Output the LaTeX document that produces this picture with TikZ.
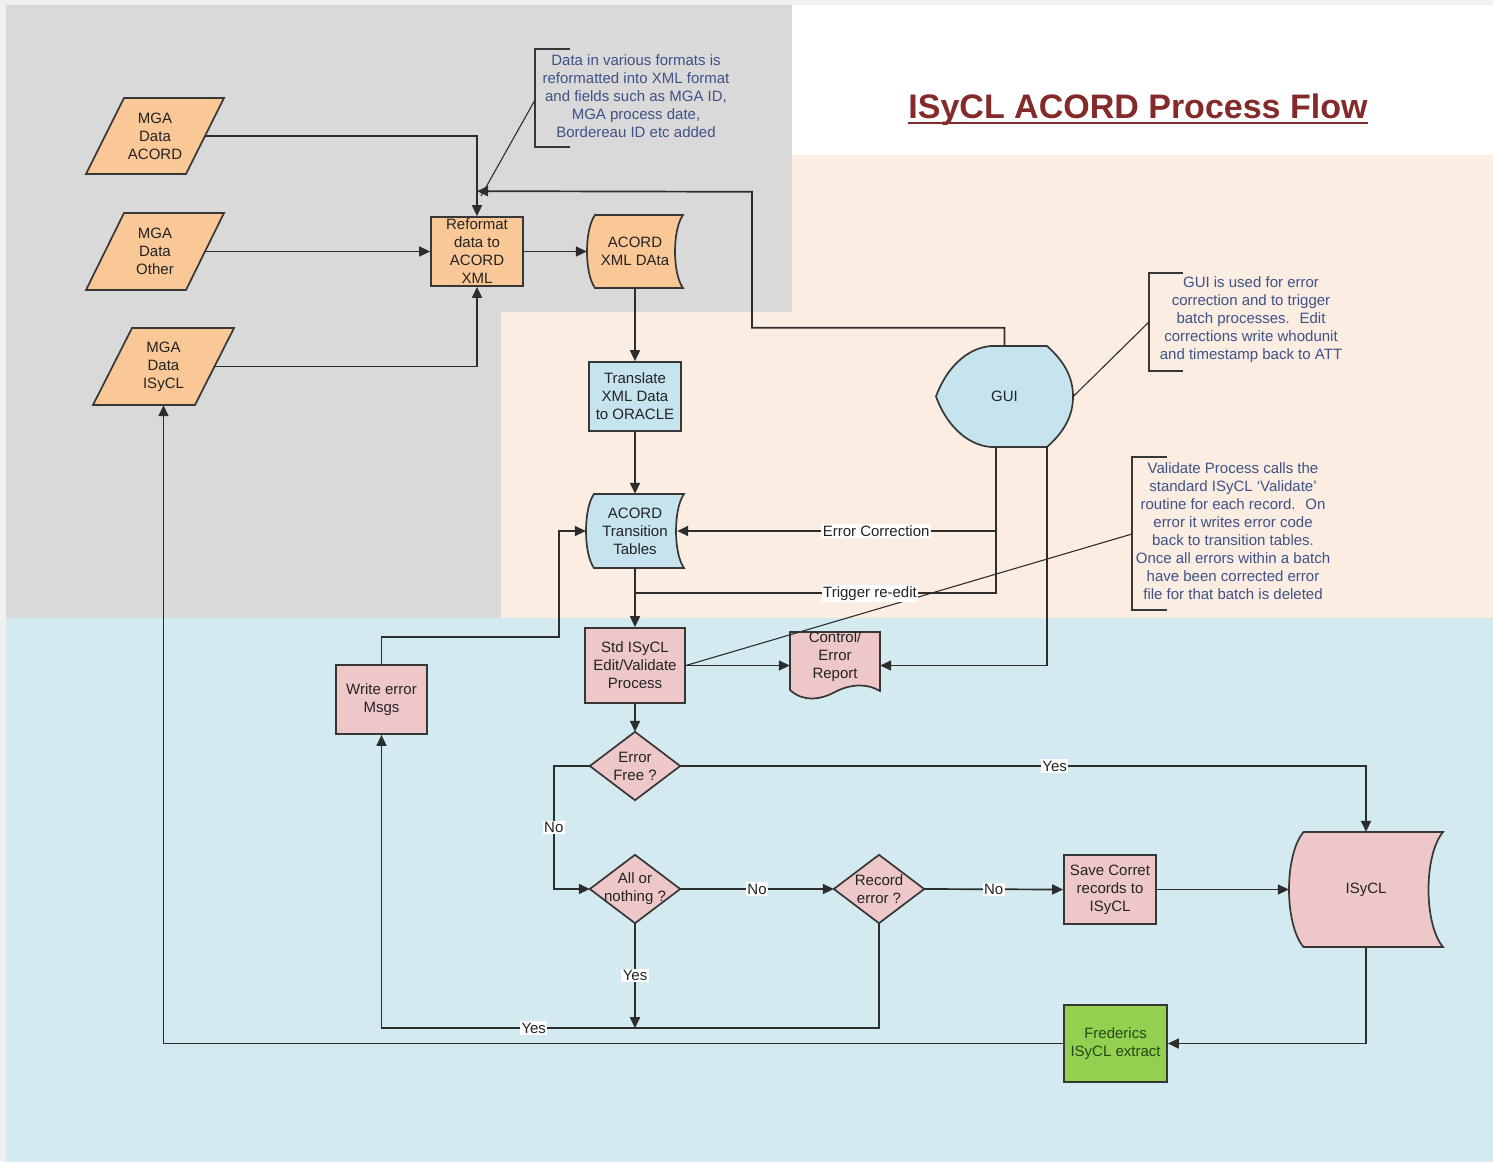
\documentclass[tikz,border=0pt]{standalone}
\usepackage{fontspec}
\setmainfont{Liberation Sans}
\usetikzlibrary{arrows.meta,calc}
\definecolor{outerbg}{RGB}{240,240,240}
\definecolor{graybg}{RGB}{217,217,217}
\definecolor{peachbg}{RGB}{252,237,227}
\definecolor{bluebg}{RGB}{210,234,240}
\definecolor{orfill}{RGB}{250,199,150}
\definecolor{blfill}{RGB}{198,228,238}
\definecolor{pkfill}{RGB}{238,200,200}
\definecolor{grfill}{RGB}{146,208,80}
\definecolor{lncol}{RGB}{45,45,45}
\definecolor{bordcol}{RGB}{55,55,55}
\definecolor{txtcol}{RGB}{35,35,35}
\definecolor{notecol}{RGB}{62,82,135}
\definecolor{titlecol}{RGB}{132,42,42}
\definecolor{grtext}{RGB}{40,70,25}
\pgfdeclarelayer{bg}
\pgfdeclarelayer{shp}
\pgfsetlayers{bg,shp,main}
\newcommand{\nfont}{\fontsize{15}{18}\selectfont}
\tikzset{
  ln/.style={draw=lncol, line width=1.7pt},
  arr/.style={ln, -{Triangle[length=11pt,width=10pt]}},
  box/.style={draw=bordcol, line width=1.7pt, inner sep=0pt, align=center, font=\nfont, text=txtcol},
  ghost/.style={inner sep=0pt, align=center, font=\nfont, text=txtcol},
  shp/.style={draw=bordcol, line width=1.7pt},
  lab/.style={fill=white, inner sep=1.5pt, font=\nfont, text=txtcol},
  note/.style={align=center, font=\nfont, text=notecol, inner sep=0pt},
  brk/.style={draw=bordcol, line width=1.7pt},
  cal/.style={draw=lncol, line width=1.1pt},
}
\newcommand{\mkpara}[4]{%
  \begin{scope}[shift={(#1.center)}]
  \path[shp,fill=orfill] (-#2+#4,-#3) -- (#2,-#3) -- (#2-#4,#3) -- (-#2,#3) -- cycle;
  \end{scope}}
\newcommand{\mksd}[5]{%
  \begin{scope}[shift={(#1.center)}]
  \path[shp,fill=#5] (-#2+#4,-#3) -- (#2,-#3)
    .. controls (#2-1.333*#4,-0.6*#3) and (#2-1.333*#4,0.6*#3) .. (#2,#3)
    -- (-#2+#4,#3)
    .. controls (-#2-0.333*#4,0.6*#3) and (-#2-0.333*#4,-0.6*#3) .. (-#2+#4,-#3) -- cycle;
  \end{scope}}
\newcommand{\mkdia}[1]{%
  \path[shp,fill=pkfill] (#1.north) -- (#1.east) -- (#1.south) -- (#1.west) -- cycle;}
\begin{document}
\begin{tikzpicture}[x=1pt,y=-1pt]
\useasboundingbox (0,0) rectangle (1493,1162);
\begin{pgfonlayer}{bg}
  \fill[outerbg] (0,0) rectangle (1493,1162);
  \fill[white] (792,5) rectangle (1493,155);
  \fill[graybg] (6,5) rectangle (792,312);
  \fill[graybg] (6,312) rectangle (501,618);
  \fill[peachbg] (792,155) rectangle (1493,618);
  \fill[peachbg] (501,312) rectangle (792,618);
  \fill[bluebg] (6,618) rectangle (1493,1162);
\end{pgfonlayer}

% title
\node[anchor=base, inner sep=0pt, font=\bfseries\fontsize{34}{40}\selectfont, text=titlecol] (title) at (1138,118) {ISyCL ACORD Process Flow};
\draw[titlecol, line width=2.5pt] ([yshift=-5pt]title.base west) -- ([yshift=-5pt]title.base east);

% nodes
\node[ghost, minimum width=138pt, minimum height=76pt] (mga1) at (155,136) {MGA\\Data\\ACORD};
\node[ghost, minimum width=138pt, minimum height=77pt] (mga2) at (155,251.5) {MGA\\Data\\Other};
\node[ghost, minimum width=141pt, minimum height=77pt] (mga3) at (163.5,366.5) {MGA\\Data\\ISyCL};
\node[box, fill=orfill, minimum width=92pt, minimum height=69pt] (ref) at (477,251.5) {Reformat\\data to\\ACORD\\XML};
\node[ghost, minimum width=96pt, minimum height=73pt] (xml) at (635,251.5) {ACORD\\XML DAta};
\node[box, fill=blfill, minimum width=92pt, minimum height=69pt] (trans) at (635,396.5) {Translate\\XML Data\\to ORACLE};
\node[ghost, minimum width=98pt, minimum height=74pt] (tt) at (635,531) {ACORD\\Transition\\Tables};
\node[ghost, minimum width=137pt, minimum height=101pt] (gui) at (1004.5,396.5) {GUI};
\node[box, fill=pkfill, minimum width=100pt, minimum height=75pt] (std) at (635,665.5) {Std ISyCL\\Edit/Validate\\Process};
\node[ghost, minimum width=90pt, minimum height=50pt] (cer) at (835,657) {Control/\\Error\\Report};
\node[box, fill=pkfill, minimum width=91pt, minimum height=69pt] (wem) at (381.5,699.5) {Write error\\Msgs};
\node[ghost, minimum width=90pt, minimum height=68pt] (ef) at (635,766) {Error\\Free ?};
\node[ghost, minimum width=90pt, minimum height=68pt] (an) at (635,889) {All or\\nothing ?};
\node[ghost, minimum width=90pt, minimum height=68pt] (re) at (879,889) {Record\\error ?};
\node[box, fill=pkfill, minimum width=92pt, minimum height=69pt] (save) at (1110,889.5) {Save Corret\\records to\\ISyCL};
\node[ghost, minimum width=154pt, minimum height=115pt] (isy) at (1366,889.5) {ISyCL};
\node[box, fill=grfill, text=grtext, minimum width=103pt, minimum height=77pt] (fred) at (1115.5,1043.5) {Frederics\\ISyCL extract};

% notes
\node[note] (n1) at (636,96) {Data in various formats is\\reformatted into XML format\\and fields such as MGA ID,\\MGA process date,\\Bordereau ID etc added};
\node[note] (n2) at (1251,320) {GUI is used for error\\correction and to trigger\\batch processes.~ Edit\\corrections write whodunit\\and timestamp back to ATT};
\node[note] (n3) at (1233,531.5) {Validate Process calls the\\standard ISyCL `Validate'\\routine for each record.~ On\\error it writes error code\\back to transition tables.\\Once all errors within a batch\\have been corrected error\\file for that batch is deleted};

% shapes
\begin{pgfonlayer}{shp}
  \mkpara{mga1}{69}{38}{38}
  \mkpara{mga2}{69}{38.5}{38}
  \mkpara{mga3}{70.5}{38.5}{39}
  \mksd{xml}{48}{36.5}{8}{orfill}
  \mksd{tt}{49}{37}{8}{blfill}
  \mksd{isy}{77}{57.5}{14.5}{pkfill}
  \mkdia{ef}
  \mkdia{an}
  \mkdia{re}
  \begin{scope}[shift={(gui.center)}]
    \path[shp,fill=blfill] (-13.5,-50.5) -- (42.5,-50.5)
      .. controls (60.5,-34.5) and (68.5,-18.5) .. (68.5,0)
      .. controls (68.5,18.5) and (60.5,34.5) .. (42.5,50.5)
      -- (-13.5,50.5)
      .. controls (-39.5,48.5) and (-59.5,25.5) .. (-68.5,0)
      .. controls (-59.5,-25.5) and (-39.5,-48.5) .. (-13.5,-50.5) -- cycle;
  \end{scope}
  \begin{scope}[shift={(cer.center)}]
    \path[shp,fill=pkfill] (-45,-25) -- (45,-25) -- (45,34)
      .. controls (32,26) and (15,27) .. (0,35)
      .. controls (-15,43) and (-32,45) .. (-45,33) -- cycle;
  \end{scope}
\end{pgfonlayer}

% brackets and callouts
\draw[brk] (570,49) -- (535,49) -- (535,147) -- (570,147);
\draw[brk] (1183,273) -- (1149,273) -- (1149,371) -- (1183,371);
\draw[brk] (1167,457) -- (1132,457) -- (1132,610) -- (1167,610);
\coordinate (k1) at (535,100);
\coordinate (k1e) at (481,196);
\coordinate (k2) at (1149,322);
\coordinate (k3) at (1132,534);
\draw[cal] (k1) -- (k1e);
\draw[cal] (k2) -- (gui.east);
\draw[cal] (k3) -- (std.east);

% connectors
\coordinate (g1) at ($(gui.south)+(-8.5,0)$);
\coordinate (g2) at ($(gui.south)+(42.5,0)$);
\draw[arr] ($(mga1.east)+(-19,0)$) -| (ref.north);
\draw[arr] ($(mga2.east)+(-19,0)$) -- (ref.west);
\draw[arr] ($(mga3.east)+(-19.5,0)$) -| (ref.south);
\draw[arr] (ref.east) -- (xml.west);
\draw[arr] (xml.south) -- (trans.north);
\draw[arr] (trans.south) -- (tt.north);
\draw[arr] (tt.south) -- (std.north);
\draw[arr] (gui.north) -- ++(0,-18) -- ++(-252.5,0) -- ++(0,-136) -- ($(ref.north)+(0,-25)$);
\draw[ln] (g1) |- node[pos=0.6745, lab]{Trigger re-edit} ($(tt.south)+(0,25)$);
\draw[arr] (g1 |- tt.east) -- node[pos=0.376, lab]{Error Correction} ($(tt.east)+(-7,0)$);
\draw[arr] (g2) |- (std.east -| cer.east);
\draw[arr] (std.east) -- (std.east -| cer.west);
\draw[arr] (wem.north) -- ++(0,-27) -- ++(177.5,0) |- (tt.west);
\draw[arr] (std.south) -- (ef.north);
\draw[arr] (ef.west) -- ++(-36,0) |- node[pos=0.25, lab]{No} (an.west);
\draw[arr] (ef.east) -| node[pos=0.273, lab]{Yes} (isy.north);
\draw[arr] (an.east) -- node[lab]{No} (re.west);
\draw[arr] (re.east) -- node[lab]{No} (save.west);
\draw[arr] (save.east) -- (isy.west);
\draw[arr] (isy.south) |- (fred.east);
\draw[arr] (fred.west) -| (mga3.south);
\draw[arr] (an.south) -- node[lab]{Yes} ++(0,105);
\draw[arr] (re.south) -- ++(0,105) -| node[pos=0.347, lab]{Yes} (wem.south);
\end{tikzpicture}
\end{document}
